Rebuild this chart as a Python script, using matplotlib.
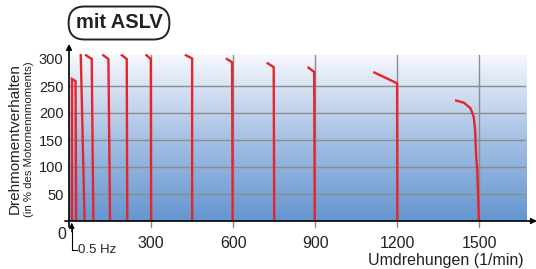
import numpy as np
import matplotlib
matplotlib.use("Agg")
import matplotlib.pyplot as plt
from matplotlib.colors import LinearSegmentedColormap

plt.rcParams['font.family'] = ['Liberation Sans', 'DejaVu Sans']

# Kennlinien (Drehzahl in 1/min, Drehmoment in % des Motornennmoments)
curve_rpm = [
    [11, 11, 24, 26],
    [43, 57],
    [62, 83, 89],
    [125, 144, 150],
    [193, 211, 213],
    [283, 299, 300],
    [427, 450, 450],
    [577, 596, 598],
    [726, 748, 750],
    [875, 896, 898],
    [1116, 1199, 1200],
    [1415, 1443, 1467, 1479, 1484, 1488, 1492, 1498],
]
curve_torque = [
    [0, 263, 259, 0],
    [307, 0],
    [307, 300, 0],
    [307, 300, 0],
    [307, 300, 0],
    [307, 300, 0],
    [307, 301, 0],
    [300, 294, 0],
    [292, 285, 0],
    [284, 276, 0],
    [275, 255, 0],
    [223, 219, 209, 193, 168, 119, 94, 0],
]
x_ticks = [300, 600, 900, 1200, 1500]
y_ticks = [50, 100, 150, 200, 250, 300]

xmax, ytop, ymax = 1670, 307, 310
red = '#e8232b'
grid_col = '#8c8c8c'

fig = plt.figure(figsize=(5.36, 2.69), dpi=100)
ax = fig.add_axes([69 / 536, 48 / 269, 457 / 536, 167.4 / 269])
ax.set_xlim(0, xmax)
ax.set_ylim(0, ymax)

# Hintergrundverlauf
cmap = LinearSegmentedColormap.from_list('bg', ['#6496d0', '#a6c0e4', '#f6f8fc'])
grad = np.linspace(0, 1, 256).reshape(-1, 1)
ax.imshow(grad, extent=[0, xmax, 0, ytop], origin='lower', aspect='auto',
          cmap=cmap, zorder=0)

# Gitter
for y in y_ticks[:-1]:
    ax.plot([0, xmax], [y, y], color=grid_col, lw=1, zorder=1)
for x in x_ticks:
    ax.plot([x, x], [-12, ytop], color=grid_col, lw=1, zorder=1, clip_on=False)

# Kennlinien
for rpm, tq in zip(curve_rpm, curve_torque):
    ax.plot(rpm, tq, color=red, lw=1.7, zorder=3, solid_joinstyle='miter')

for s in ax.spines.values():
    s.set_visible(False)

# Achsen mit Pfeilen
ax.annotate('', xy=(1710, 0), xytext=(-15, 0), annotation_clip=False,
            arrowprops=dict(arrowstyle='-|>', color='black', lw=1.2,
                            mutation_scale=8, shrinkA=0, shrinkB=0))
ax.annotate('', xy=(0, 328), xytext=(0, -11), annotation_clip=False,
            arrowprops=dict(arrowstyle='-|>', color='black', lw=1.2,
                            mutation_scale=8, shrinkA=0, shrinkB=0))

ax.set_xticks(x_ticks)
ax.set_xticklabels([str(v) for v in x_ticks], fontsize=11.5)
ax.set_yticks(y_ticks)
ax.set_yticklabels([str(v) for v in y_ticks], fontsize=10.5)
ax.tick_params(axis='x', length=0, pad=11, colors='#222222')
ax.tick_params(axis='y', length=0, pad=4, colors='#222222')
ax.text(-25, -12, '0', ha='center', va='top', fontsize=11.5, color='#222222',
        clip_on=False)

# 0.5 Hz Markierung
ax.plot([10, 10, 28], [-10, -53, -53], color='black', lw=0.8, clip_on=False)
ax.annotate('', xy=(10, -3), xytext=(10, -20), annotation_clip=False,
            arrowprops=dict(arrowstyle='-|>', color='black', lw=0.8,
                            mutation_scale=8, shrinkA=0, shrinkB=0))
ax.text(33, -54, '0.5 Hz', ha='left', va='center', fontsize=9.5,
        color='#222222', clip_on=False)

# Beschriftungen
fig.text(446 / 536, 1 - 260 / 269, 'Umdrehungen (1/min)', ha='center',
         va='center', fontsize=11.5, color='#222222')
fig.text(15 / 536, 1 - 139 / 269, 'Drehmomentverhalten', rotation=90,
         ha='center', va='center', fontsize=11, color='#222222')
fig.text(28.5 / 536, 1 - 139 / 269, '(in % des Motornennmoments)', rotation=90,
         ha='center', va='center', fontsize=8.2, color='#222222')
fig.text(119 / 536, 1 - 23 / 269, 'mit ASLV', ha='center', va='center',
         fontsize=14.4, fontweight='bold', color='#222222',
         bbox=dict(boxstyle='round,pad=0.35,rounding_size=0.8', fc='white',
                   ec='#222222', lw=1.4))

fig.savefig('out.png', dpi=100)
